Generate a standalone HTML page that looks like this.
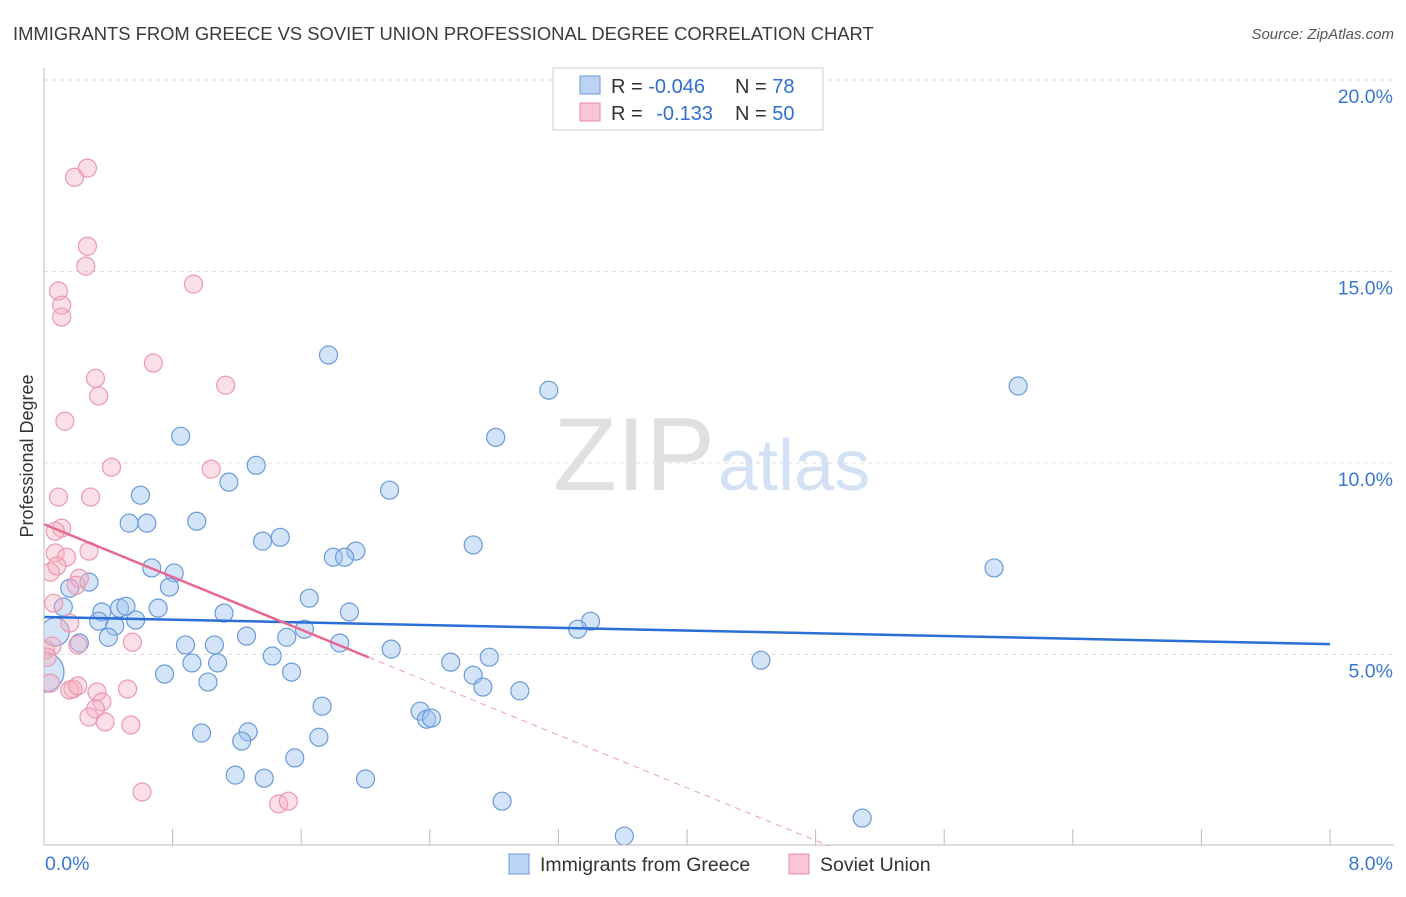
<!DOCTYPE html>
<html><head><meta charset="utf-8">
<style>
body{margin:0;background:#fff;font-family:"Liberation Sans",sans-serif;}
svg text{font-family:"Liberation Sans",sans-serif;}
</style></head>
<body>
<svg id="chart" width="1406" height="892" viewBox="0 0 1406 892" xmlns="http://www.w3.org/2000/svg">
<defs><clipPath id="plotclip"><rect x="44" y="60" width="1360" height="785"/></clipPath></defs>
<text x="13" y="40" font-size="18.4" fill="#3a3a3a">IMMIGRANTS FROM GREECE VS SOVIET UNION PROFESSIONAL DEGREE CORRELATION CHART</text>
<text x="1394" y="39" font-size="15" fill="#555" text-anchor="end" font-style="italic">Source: ZipAtlas.com</text>
<text transform="translate(33,456) rotate(-90)" font-size="18" fill="#333" text-anchor="middle">Professional Degree</text>
<g id="grid"></g>
<text x="715" y="490" font-size="104" text-anchor="end" fill="#e0e0e0" font-family="Liberation Serif">ZIP</text>
<text x="718" y="490" font-size="72" fill="#d2e1f4">atlas</text>
<g id="pts" clip-path="url(#plotclip)"></g>
<g id="trend"></g>
<g id="axes"></g>
<g>
<rect x="553" y="68" width="270" height="62" fill="#fff" stroke="#ccc"/>
<rect x="580" y="76" width="20" height="18" fill="#bcd4f4" stroke="#6a9ad8"/>
<rect x="580" y="103" width="20" height="18" fill="#f8c6d4" stroke="#e88aa5"/>
<text x="611" y="93" font-size="20" fill="#333">R = <tspan fill="#2f6fcf">-0.046</tspan></text>
<text x="735" y="93" font-size="20" fill="#333">N = <tspan fill="#2f6fcf"> 78</tspan></text>
<text x="611" y="120" font-size="20" fill="#333">R = <tspan fill="#2f6fcf" dx="8">-0.133</tspan></text>
<text x="735" y="120" font-size="20" fill="#333">N = <tspan fill="#2f6fcf">50</tspan></text>
</g>
<g>
<rect x="509" y="854" width="20" height="20" fill="#bcd4f4" stroke="#6a9ad8"/>
<text x="540" y="871" font-size="19.5" fill="#333">Immigrants from Greece</text>
<rect x="789" y="854" width="20" height="20" fill="#f8c6d4" stroke="#e88aa5"/>
<text x="820" y="871" font-size="19.5" fill="#333">Soviet Union</text>
</g>
</svg>
<script>
const greeceX=[1.77,3.14,6.06,0.85,2.81,1.32,1.15,0.60,2.15,0.53,0.64,0.95,1.47,1.36,2.67,1.94,1.80,1.87,0.67,0.81,5.91,0.16,0.28,0.78,1.65,0.12,0.36,0.47,0.51,0.71,1.12,1.90,3.40,0.34,0.44,0.57,3.32,0.07,1.62,0.22,0.40,1.26,1.51,0.88,1.06,1.84,2.16,0.00,1.42,2.77,2.53,4.46,0.92,1.08,1.54,0.75,2.67,1.02,2.73,2.96,1.73,2.34,2.38,2.41,0.98,1.27,1.23,1.71,1.56,1.19,1.37,2.00,2.85,3.61,5.09];
const greeceY=[12.82,11.90,12.01,10.70,10.67,9.94,9.50,9.16,9.29,8.43,8.43,8.48,8.06,7.96,7.86,7.70,7.54,7.54,7.26,7.13,7.26,6.73,6.89,6.76,6.47,6.24,6.11,6.21,6.26,6.21,6.08,6.11,5.87,5.87,5.74,5.90,5.66,5.59,5.66,5.30,5.45,5.48,5.45,5.25,5.25,5.30,5.14,4.54,4.96,4.93,4.80,4.85,4.78,4.78,4.54,4.49,4.46,4.28,4.15,4.05,3.65,3.52,3.31,3.34,2.95,2.98,2.74,2.84,2.30,1.85,1.77,1.75,1.17,0.26,0.73];
const sovietX=[0.27,0.19,0.27,0.26,0.93,0.09,0.11,0.11,0.68,0.32,1.13,0.34,0.13,0.42,1.04,0.09,0.29,0.11,0.07,0.07,0.28,0.14,0.04,0.08,0.06,0.22,0.20,0.16,0.55,0.21,0.01,0.05,0.02,0.04,0.18,0.16,0.21,0.33,0.52,0.36,0.32,0.28,0.38,0.54,0.61,1.46,1.52];
const sovietY=[17.70,17.46,15.66,15.14,14.67,14.49,14.12,13.81,12.61,12.21,12.03,11.75,11.09,9.89,9.84,9.11,9.11,8.30,8.22,7.65,7.70,7.54,7.15,7.31,6.34,6.99,6.81,5.82,5.32,5.25,5.12,5.22,4.93,4.25,4.10,4.07,4.18,4.02,4.10,3.76,3.58,3.37,3.24,3.16,1.41,1.10,1.17];
const bigGreece=[37,47];
const yTicks=[5,10,15,20];
const yTickLabels=["5.0%","10.0%","15.0%","20.0%"];
const xTicks=[0,1,2,3,4,5,6,7,8];
const xEndLabels=["0.0%","8.0%"];
const greeceTrend=[5.98,5.27];
const sovietTrend=[8.40,-1.72];

const NS="http://www.w3.org/2000/svg";
const L=44,R=1330,T=68,B=845;
const sx=v=>L+v/8*(R-L);
const sy=v=>846-v*38.3;
function mk(tag,attrs,parent){const e=document.createElementNS(NS,tag);for(const k in attrs)e.setAttribute(k,attrs[k]);parent.appendChild(e);return e;}
const grid=document.getElementById('grid'),pts=document.getElementById('pts'),trend=document.getElementById('trend'),axes=document.getElementById('axes');
yTicks.forEach((t,i)=>{
  const l=mk('line',{x1:L,x2:1394,y1:sy(t),y2:sy(t),stroke:'#ddd','stroke-dasharray':'4,4'},grid);
  
  
  const tx=mk('text',{x:1393,y:sy(t)+23,'font-size':19.5,fill:'#3a78d0','text-anchor':'end'},grid);
  tx.textContent=yTickLabels[i];
  
  
});
const ya=mk('line',{x1:L,x2:L,y1:T,y2:B,stroke:'#bbb'},axes);


const xa=mk('line',{x1:L,x2:1394,y1:B,y2:B,stroke:'#bbb'},axes);


for(let k=0;k<=10;k++){const v=k*0.8;
  const tk=mk('line',{x1:sx(v),x2:sx(v),y1:829,y2:B,stroke:'#bbb'},axes);
  
  
}
const xl0=mk('text',{x:45,y:870,'font-size':19.5,fill:'#3a78d0'},axes);xl0.textContent=xEndLabels[0];


const xl1=mk('text',{x:1393,y:870,'font-size':19.5,fill:'#3a78d0','text-anchor':'end'},axes);xl1.textContent=xEndLabels[1];


greeceX.forEach((x,i)=>{
  const r=bigGreece.includes(i)?(i===47?20:14):9;
  const c=mk('circle',{cx:sx(x),cy:sy(greeceY[i]),r:r,fill:'rgba(160,195,240,0.45)',stroke:'#6a9ad8','stroke-width':1.2},pts);
  
  
});
sovietX.forEach((x,i)=>{
  const c=mk('circle',{cx:sx(x),cy:sy(sovietY[i]),r:9,fill:'rgba(245,175,195,0.4)',stroke:'#eb98b0','stroke-width':1.2},pts);
  
  
});
const g=mk('line',{x1:sx(0),y1:sy(greeceTrend[0]),x2:sx(8),y2:sy(greeceTrend[1]),stroke:'#2a6fd6','stroke-width':2.5},trend);


const sEnd=2.02, zeroX=-sovietTrend[0]/sovietTrend[1];
const s1=mk('line',{x1:sx(0),y1:sy(sovietTrend[0]),x2:sx(sEnd),y2:sy(sovietTrend[0]+sovietTrend[1]*sEnd),stroke:'#e8678f','stroke-width':2.5},trend);


const s2=mk('line',{x1:sx(sEnd),y1:sy(sovietTrend[0]+sovietTrend[1]*sEnd),x2:sx(zeroX),y2:sy(0),stroke:'#e8a0b5','stroke-width':1,'stroke-dasharray':'6,5'},trend);


</script>
</body></html>
